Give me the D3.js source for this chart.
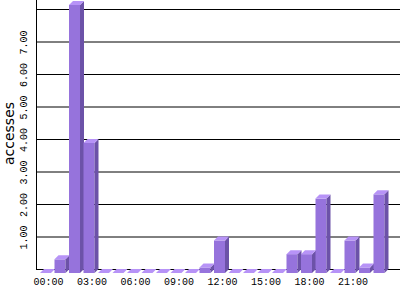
<!DOCTYPE html>
<html><head><meta charset="utf-8">
<script src="https://cdn.jsdelivr.net/npm/d3@7"></script>
<style>html,body{margin:0;padding:0;background:#fff;}svg{display:block;}</style>
</head><body>
<svg id="c" width="400" height="300"></svg>
<script>
const hours = d3.range(24);
const accesses = [0, 0.42, 8.25, 4.0, 0, 0, 0, 0, 0, 0, 0, 0.17, 1.0, 0, 0, 0, 0, 0.58, 0.58, 2.29, 0, 1.0, 0.17, 2.42];
const yGrid = [1, 2, 3, 4, 5, 6, 7, 8];
const yTickLabels = [1, 2, 3, 4, 5, 6, 7];
const xTickHours = [0, 3, 6, 9, 12, 15, 18, 21];
const xTickLabels = ["00:00", "03:00", "06:00", "09:00", "12:00", "15:00", "18:00", "21:00"];

(function () {
const svg = d3.select("#c");
const x = d3.scaleLinear().domain([0, 24]).range([40, 388]);
const y = d3.scaleLinear().domain([0, 8]).range([269, 9]);
const W = 11, D = 4;
const frontColor = "#9673dc", sideColor = "#6c52a8", topColor = "#b793f7";

// gridlines
svg.append("g").selectAll("line").data([0].concat(yGrid)).join("line")
  .attr("x1", 36).attr("x2", 400)
  .attr("y1", d => y(d) + 0.5).attr("y2", d => y(d) + 0.5)
  .attr("stroke", "#000").attr("stroke-width", 1);
// y axis line
svg.append("line").attr("x1", 36.5).attr("x2", 36.5).attr("y1", 0).attr("y2", y(0) + 1)
  .attr("stroke", "#000");

// bars
const g = svg.append("g");
hours.forEach(h => {
  const v = accesses[h];
  const xl = x(h), yb = y(v), y0 = y(0);
  if (v > 0) {
    g.append("rect").attr("x", xl).attr("y", yb + D).attr("width", W).attr("height", y0 - yb)
      .attr("fill", frontColor);
    g.append("path").attr("d", `M${xl + W},${yb + D}L${xl + W + D},${yb}L${xl + W + D},${y0}L${xl + W},${y0 + D}Z`)
      .attr("fill", sideColor);
  }
  g.append("path").attr("d", `M${xl},${yb + D}L${xl + D},${yb}L${xl + W + D},${yb}L${xl + W},${yb + D}Z`)
    .attr("fill", topColor);
});

// y tick labels
svg.append("g").selectAll("text").data(yTickLabels).join("text")
  .attr("transform", d => `translate(26.5,${y(d) + 1}) rotate(-90)`)
  .attr("text-anchor", "middle")
  .attr("font-family", "Liberation Mono").attr("font-size", 10)
  .text(d => d3.format(".2f")(d));

// x tick labels
svg.append("g").selectAll("text").data(xTickHours).join("text")
  .attr("x", d => x(d) + 8.5).attr("y", 285)
  .attr("text-anchor", "middle")
  .attr("font-family", "Liberation Mono").attr("font-size", 10)
  .text((d, i) => xTickLabels[i]);

// y title
svg.append("text").attr("transform", "translate(14,133.5) rotate(-90)")
  .attr("text-anchor", "middle")
  .attr("font-family", "DejaVu Sans").attr("font-size", 14)
  .text("accesses");
})();
</script>
</body></html>
